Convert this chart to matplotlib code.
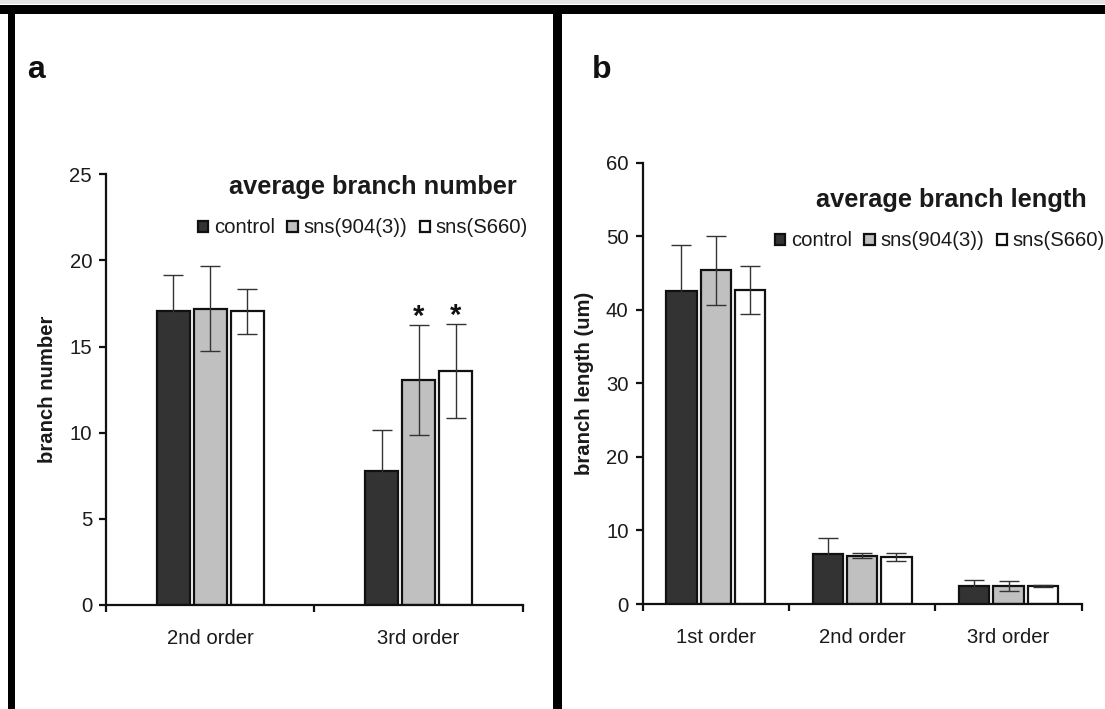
import matplotlib
matplotlib.use("Agg")
import matplotlib.pyplot as plt
from matplotlib.patches import Rectangle
import numpy as np

plt.rcParams['font.family'] = ['Liberation Sans', 'DejaVu Sans']

# ---------------- data ----------------
series = ['control', 'sns(904(3))', 'sns(S660)']
colors = ['#333333', '#c0c0c0', '#ffffff']

cats_a = ['2nd order', '3rd order']
num_control = [17.05, 7.8]
num_control_err = [2.08, 2.35]
num_904 = [17.2, 13.05]
num_904_err = [2.45, 3.2]
num_s660 = [17.05, 13.6]
num_s660_err = [1.3, 2.73]
signif_a = [[False, False], [False, True], [False, True]]  # per series, per category

cats_b = ['1st order', '2nd order', '3rd order']
len_control = [42.5, 6.8, 2.45]
len_control_err = [6.25, 2.2, 0.8]
len_904 = [45.4, 6.55, 2.4]
len_904_err = [4.7, 0.35, 0.67]
len_s660 = [42.7, 6.35, 2.45]
len_s660_err = [3.3, 0.52, 0.12]

W, H = 1105, 709
fig = plt.figure(figsize=(W / 100, H / 100), dpi=100)

# frame lines
def prect(x0, y0, x1, y1, color='black'):
    fig.add_artist(Rectangle((x0 / W, 1 - y1 / H), (x1 - x0) / W, (y1 - y0) / H,
                             transform=fig.transFigure, color=color, lw=0, zorder=10))

prect(0, 0, W, 4, color='#e4e4e4')
prect(0, 5, W, 14)
prect(8, 5, 15, H)
prect(553, 5, 562, H)

TXT = '#1a1a1a'
FS = 14.6


def style_axes(ax, ncat, ymax, ystep):
    for s in ['top', 'right']:
        ax.spines[s].set_visible(False)
    for s in ['left', 'bottom']:
        ax.spines[s].set_linewidth(1.6)
        ax.spines[s].set_color('#111111')
    ax.set_xlim(0, ncat)
    ax.set_ylim(0, ymax)
    ax.set_yticks(np.arange(0, ymax + 0.001, ystep))
    ax.set_xticks(np.arange(0, ncat + 1))
    ax.set_xticklabels([])
    ax.tick_params(axis='y', direction='out', length=5, width=1.6, color='#111111',
                   labelsize=FS, labelcolor=TXT, pad=5)
    ax.tick_params(axis='x', which='major', direction='out', length=5, width=1.6,
                   color='#111111')
    ax.tick_params(axis='x', which='minor', length=0, labelsize=FS, labelcolor=TXT, pad=17)


def draw_bars(ax, cats, vals, errs, offset, width):
    x = np.arange(len(cats)) + 0.5
    for i, (v, e) in enumerate(zip(vals, errs)):
        xi = x + (i - 1) * offset
        ax.bar(xi, v, width=width, color=colors[i], edgecolor='#111111',
               linewidth=1.6, label=series[i], zorder=2)
        ax.errorbar(xi, v, yerr=e, fmt='none', ecolor='#333333', elinewidth=1.0,
                    capsize=7.5, capthick=1.0, zorder=3)
    ax.set_xticks(x, minor=True)
    ax.set_xticklabels(cats, minor=True)
    return x


leg_kw = dict(loc='center', bbox_transform=fig.transFigure, ncol=3, frameon=False,
              fontsize=FS, handlelength=0.5, handleheight=0.5, handletextpad=0.3,
              columnspacing=0.6, borderaxespad=0, borderpad=0, labelcolor=TXT)

# ---------------- panel a ----------------
ax_a = fig.add_axes([106 / W, 1 - 605 / H, (522.7 - 106) / W, (605 - 174.3) / H])
style_axes(ax_a, len(cats_a), 25, 5)
vals_a = [num_control, num_904, num_s660]
errs_a = [num_control_err, num_904_err, num_s660_err]
off_a = 0.1775
xa = draw_bars(ax_a, cats_a, vals_a, errs_a, off_a, 0.157)
for i in range(3):
    for j in range(len(cats_a)):
        if signif_a[i][j]:
            ax_a.text(xa[j] + (i - 1) * off_a, vals_a[i][j] + errs_a[i][j], '*',
                      ha='center', va='baseline', fontsize=21, fontweight='bold',
                      color='#111111')
ax_a.text((48 - 106) / 416.7, 0.5, 'branch number', transform=ax_a.transAxes,
          rotation=90, ha='center', va='center', fontsize=FS, fontweight='bold', color=TXT)
fig.text(373 / W, 1 - 187 / H, 'average branch number', ha='center', va='center',
         fontsize=18.3, fontweight='bold', color=TXT)
ax_a.legend(bbox_to_anchor=(363 / W, 1 - 228 / H), **leg_kw)

# ---------------- panel b ----------------
ax_b = fig.add_axes([642.5 / W, 1 - 604 / H, (1081.7 - 642.5) / W, (604 - 162.7) / H])
style_axes(ax_b, len(cats_b), 60, 10)
vals_b = [len_control, len_904, len_s660]
errs_b = [len_control_err, len_904_err, len_s660_err]
draw_bars(ax_b, cats_b, vals_b, errs_b, 0.234, 0.207)
ax_b.text((585 - 642.5) / 439.2, 0.5, 'branch length (um)', transform=ax_b.transAxes,
          rotation=90, ha='center', va='center', fontsize=FS, fontweight='bold', color=TXT)
fig.text(951 / W, 1 - 200 / H, 'average branch length', ha='center', va='center',
         fontsize=18.3, fontweight='bold', color=TXT)
ax_b.legend(bbox_to_anchor=(940 / W, 1 - 241 / H), **leg_kw)

# panel letters
fig.text(27 / W, 1 - 78 / H, 'a', ha='left', va='baseline', fontsize=23, fontweight='bold',
         color='#111111')
fig.text(592 / W, 1 - 78 / H, 'b', ha='left', va='baseline', fontsize=23, fontweight='bold',
         color='#111111')

fig.savefig('out.png', dpi=100, facecolor='white')
